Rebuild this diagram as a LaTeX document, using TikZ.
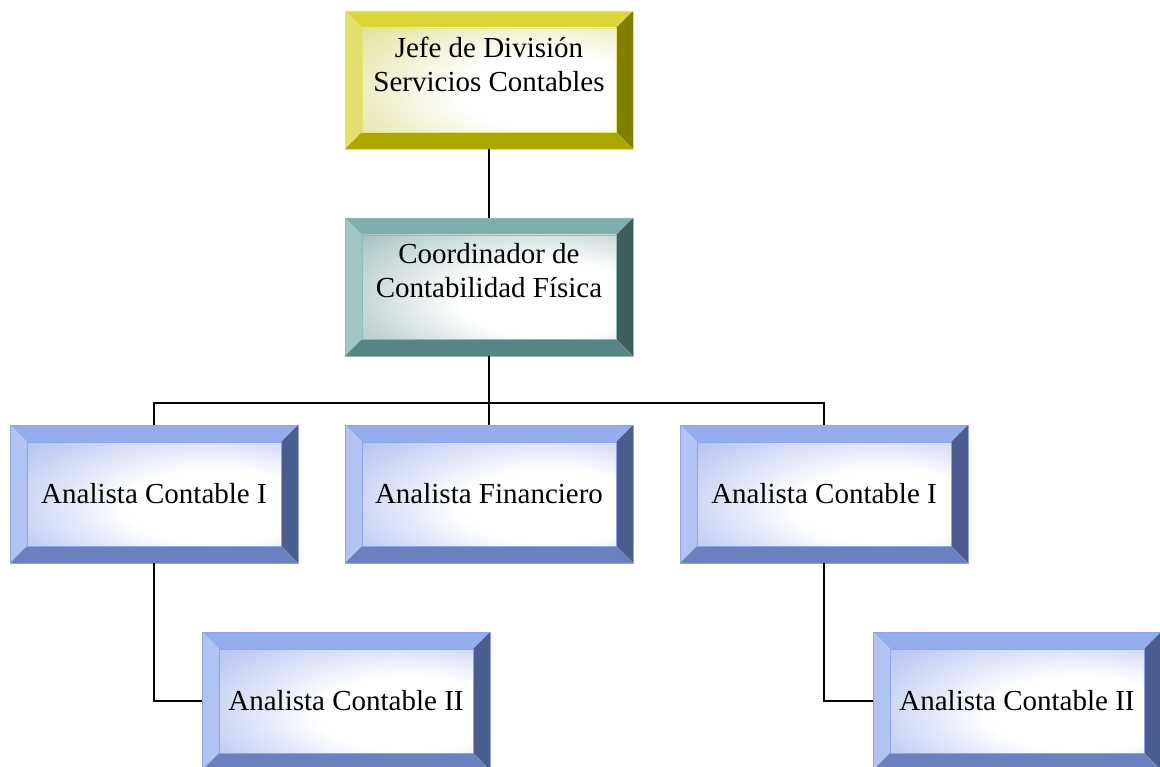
\documentclass[tikz,border=0pt]{standalone}
\usepackage{fontspec}
\setmainfont{Liberation Serif}
\definecolor{yelT}{HTML}{D9D63A}
\definecolor{yelL}{HTML}{E2DF6E}
\definecolor{yelR}{HTML}{808000}
\definecolor{yelB}{HTML}{AAA800}
\definecolor{yelF}{HTML}{D0CE60}
\definecolor{yelO}{HTML}{E6E47A}
\definecolor{teaT}{HTML}{7EAFAC}
\definecolor{teaL}{HTML}{A0C6C3}
\definecolor{teaR}{HTML}{3E5E5C}
\definecolor{teaB}{HTML}{578583}
\definecolor{teaF}{HTML}{6A9B98}
\definecolor{teaO}{HTML}{8FBAB7}
\definecolor{bluT}{HTML}{94ADEC}
\definecolor{bluL}{HTML}{B1C3F3}
\definecolor{bluR}{HTML}{4B5D8E}
\definecolor{bluB}{HTML}{6A80BF}
\definecolor{bluF}{HTML}{809BE6}
\definecolor{bluO}{HTML}{8CA6EC}
\colorlet{facecol}{bluF}
\pgfdeclareradialshading[facecol]{bevface}{\pgfpoint{16bp}{-8bp}}{%
  color(0bp)=(white); color(18bp)=(white); color(60bp)=(facecol); color(80bp)=(facecol)}
\tikzset{
  boxshape/.style={inner sep=0pt, outer sep=0pt, minimum width=288pt, minimum height=138pt},
  boxtext/.style={font=\fontsize{29}{34}\selectfont, align=center, inner sep=0pt},
  conn/.style={draw=black, line width=1.5pt}
}
\newcommand\bevbox[6]{%
  \pgfmathsetmacro\xa{#2}\pgfmathsetmacro\ya{#3}%
  \pgfmathsetmacro\xb{#2+288}\pgfmathsetmacro\yb{#3+138}%
  \pgfmathsetmacro\xc{#2+17}\pgfmathsetmacro\yc{#3+17}%
  \pgfmathsetmacro\xd{#2+288-17}\pgfmathsetmacro\yd{#3+138-17}%
  \fill[#4T] (\xa,\ya) -- (\xb,\ya) -- (\xd,\yc) -- (\xc,\yc) -- cycle;
  \fill[#4L] (\xa,\ya) -- (\xc,\yc) -- (\xc,\yd) -- (\xa,\yb) -- cycle;
  \fill[#4R] (\xb,\ya) -- (\xb,\yb) -- (\xd,\yd) -- (\xd,\yc) -- cycle;
  \fill[#4B] (\xa,\yb) -- (\xc,\yd) -- (\xd,\yd) -- (\xb,\yb) -- cycle;
  \colorlet{facecol}{#4F}%
  \shade[shading=bevface] (\xc,\yc) rectangle (\xd,\yd);
  \draw[#4O, line width=0.8pt] (\xc,\yc) rectangle (\xd,\yd);
  \draw[#4O, line width=0.8pt] (\xa,\ya) rectangle (\xb,\yb);
  \node[boxshape] (#1) at ({\xa+144},{\ya+69}) {};
  \node[boxtext, yshift=#6] (#1-text) at (#1.center) {#5};
}
\begin{document}
\begin{tikzpicture}[x=1pt,y=-1pt]
\useasboundingbox (0,0) rectangle (1160,767);
\clip (0,0) rectangle (1160,767);
\bevbox{jefe}{345}{11}{yel}{Jefe de División\\Servicios Contables}{16pt}
\bevbox{coord}{345}{218}{tea}{Coordinador de\\Contabilidad Física}{16pt}
\bevbox{aci}{10}{425}{blu}{Analista Contable I}{0pt}
\bevbox{af}{345}{425}{blu}{Analista Financiero}{0pt}
\bevbox{acd}{680}{425}{blu}{Analista Contable I}{0pt}
\bevbox{acii}{202}{632}{blu}{Analista Contable II}{0pt}
\bevbox{acdii}{873}{632}{blu}{Analista Contable II}{0pt}
\coordinate (bus) at (489,403);
\draw[conn] (jefe.south) -- (coord.north);
\draw[conn] (coord.south) -- (bus);
\draw[conn] (bus) -- (af.north);
\draw[conn] (aci.north) |- (bus) -| (acd.north);
\draw[conn] (aci.south) |- (acii.west);
\draw[conn] (acd.south) |- (acdii.west);
\end{tikzpicture}
\end{document}
